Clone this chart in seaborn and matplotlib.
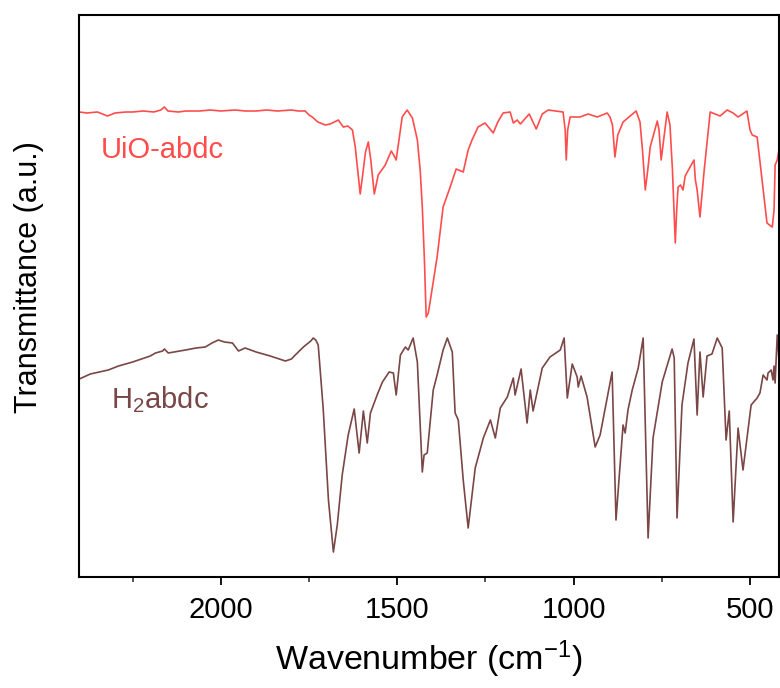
import numpy as np
import pandas as pd
import matplotlib
matplotlib.use("Agg")
import matplotlib.pyplot as plt
import seaborn as sns

# ---- data (wavenumber in cm^-1, transmittance in a.u.) ----
uio_wavenumber = [
    2401, 2380, 2350, 2321, 2300, 2270, 2250, 2220, 2190, 2170,
    2160, 2150, 2120, 2100, 2060, 2030, 2000, 1960, 1930, 1900,
    1870, 1840, 1800, 1780, 1761, 1750, 1741, 1725, 1704, 1690,
    1667, 1653, 1640, 1627, 1619, 1612, 1605, 1598, 1590, 1582,
    1575, 1565, 1554, 1534, 1517, 1510, 1503, 1495, 1486, 1472,
    1457, 1443, 1435, 1429, 1423, 1418, 1412, 1406, 1387, 1370,
    1350, 1333, 1313, 1299, 1288, 1271, 1251, 1228, 1215, 1200,
    1180, 1171, 1160, 1151, 1126, 1106, 1089, 1072, 1030, 1024,
    1021, 1017, 1010, 982, 959, 933, 905, 897, 890, 883,
    875, 860, 823, 812, 805, 797, 790, 783, 763, 758,
    752, 745, 735, 727, 720, 712, 708, 704, 697, 690,
    684, 659, 655, 650, 642, 630, 613, 585, 565, 548,
    534, 509, 500, 494, 480, 466, 452, 445, 437, 432,
    429, 423, 418]
uio_transmittance = [
    488, 487, 488, 484, 487, 488, 488, 489, 488, 490,
    493, 489, 488, 489, 489, 490, 489, 490, 489, 489,
    490, 489, 490, 489, 489, 485, 483, 478, 475, 476,
    480, 473, 474, 470, 453, 430, 406, 425, 448, 458,
    440, 406, 425, 435, 449, 445, 440, 460, 483, 490,
    482, 460, 430, 393, 340, 283, 287, 300, 343, 393,
    413, 431, 428, 450, 460, 473, 477, 467, 478, 487,
    488, 477, 480, 476, 486, 471, 486, 490, 488, 470,
    440, 470, 483, 483, 486, 483, 487, 483, 475, 443,
    465, 478, 489, 478, 450, 410, 430, 453, 479, 470,
    440, 460, 488, 475, 430, 357, 390, 413, 415, 410,
    424, 440, 420, 410, 383, 430, 488, 484, 490, 487,
    483, 489, 470, 465, 463, 420, 377, 375, 373, 390,
    435, 440, 450]

h2_wavenumber = [
    2401, 2370, 2319, 2290, 2250, 2200, 2185, 2165, 2160, 2149,
    2100, 2070, 2044, 2025, 2007, 1990, 1967, 1950, 1931, 1900,
    1860, 1817, 1800, 1789, 1766, 1745, 1738, 1731, 1724, 1710,
    1695, 1681, 1670, 1656, 1639, 1622, 1608, 1596, 1585, 1576,
    1557, 1542, 1523, 1511, 1503, 1491, 1477, 1469, 1455, 1443,
    1429, 1424, 1415, 1398, 1387, 1370, 1358, 1344, 1336, 1327,
    1313, 1299, 1279, 1256, 1236, 1222, 1208, 1188, 1171, 1166,
    1149, 1132, 1123, 1115, 1089, 1067, 1038, 1027, 1018, 1004,
    990, 987, 979, 962, 939, 925, 891, 880, 860, 854,
    846, 834, 817, 803, 789, 775, 749, 721, 715, 707,
    693, 676, 659, 650, 642, 633, 622, 608, 593, 579,
    568, 559, 548, 534, 520, 497, 480, 472, 463, 452,
    449, 440, 435, 432, 429, 423, 418]
h2_transmittance = [
    221, 226, 230, 234, 238, 244, 247, 249, 251, 247,
    250, 252, 253, 257, 260, 258, 257, 249, 252, 248,
    244, 239, 241, 245, 253, 259, 262, 260, 255, 192,
    100, 48, 75, 125, 165, 191, 147, 189, 157, 187,
    205, 218, 228, 227, 205, 245, 253, 250, 262, 238,
    128, 145, 147, 210, 225, 250, 262, 248, 187, 180,
    120, 72, 132, 162, 180, 162, 192, 203, 222, 205,
    231, 177, 210, 189, 232, 243, 250, 262, 202, 236,
    223, 213, 224, 203, 153, 165, 228, 80, 175, 167,
    190, 210, 232, 262, 62, 162, 218, 251, 242, 82,
    195, 237, 261, 185, 248, 203, 244, 246, 262, 252,
    160, 189, 78, 172, 130, 195, 202, 207, 225, 220,
    227, 230, 220, 234, 217, 265, 240]

labels = ["UiO-abdc", "H$_2$abdc"]
line_colors = ["#ff4d4d", "#7a4646"]

# ---- figure ----
sns.set_theme(style="white")
plt.rcParams["font.family"] = ["Liberation Sans", "DejaVu Sans"]
plt.rcParams["mathtext.fontset"] = "custom"
plt.rcParams["mathtext.rm"] = "Liberation Sans"
plt.rcParams["mathtext.it"] = "Liberation Sans:italic"

fig = plt.figure(figsize=(7.8, 6.88), dpi=100)
ax = fig.add_axes([79 / 780, 1 - 577 / 688, 700 / 780, 562 / 688])

df_uio = pd.DataFrame({"w": uio_wavenumber, "t": uio_transmittance})
df_h2 = pd.DataFrame({"w": h2_wavenumber, "t": h2_transmittance})

sns.lineplot(data=df_uio, x="w", y="t", ax=ax, color=line_colors[0], lw=1.2,
             estimator=None, sort=False)
sns.lineplot(data=df_h2, x="w", y="t", ax=ax, color=line_colors[1], lw=1.2,
             estimator=None, sort=False)

ax.set_xlim(2402, 418)
ax.set_ylim(23, 585)

ax.set_xticks([2000, 1500, 1000, 500])
ax.set_xticks([2250, 1750, 1250, 750], minor=True)
ax.set_yticks([])
ax.tick_params(axis="x", which="major", direction="out", length=6, width=1.3,
               labelsize=21, colors="black", bottom=True, pad=8)
ax.tick_params(axis="x", which="minor", direction="out", length=3.5, width=1.1,
               bottom=True)
for sp in ax.spines.values():
    sp.set_color("black")
    sp.set_linewidth(1.5)

ax.set_xlabel("Wavenumber (cm$^{-1}$)", fontsize=24.5, color="black", labelpad=10)
ax.set_ylabel("Transmittance (a.u.)", fontsize=22, color="black")
ax.yaxis.set_label_coords(-0.05, 0.534)

ax.text(2340, 450, labels[0], fontsize=21, color=line_colors[0], va="center")
ax.text(2310, 200, labels[1], fontsize=21, color=line_colors[1], va="center")

fig.savefig("out.png", dpi=100, facecolor="white")
